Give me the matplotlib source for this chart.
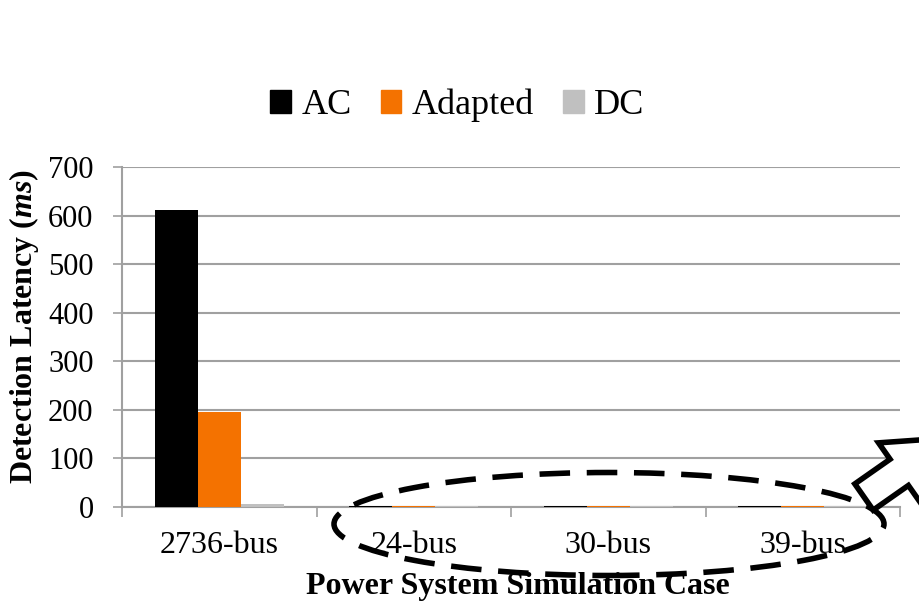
import matplotlib.pyplot as plt
import numpy as np
from matplotlib.patches import Ellipse, Polygon, Patch

plt.rcParams['font.family'] = ['Liberation Serif', 'DejaVu Serif']
plt.rcParams['mathtext.fontset'] = 'custom'
plt.rcParams['mathtext.rm'] = 'Liberation Serif:bold'
plt.rcParams['mathtext.it'] = 'Liberation Serif:italic:bold'

# data (ms)
cases = ['2736-bus', '24-bus', '30-bus', '39-bus']
series = ['AC', 'Adapted', 'DC']
ac = [612, 2.5, 2.5, 2.5]
adapted = [196, 2, 2, 2]
dc = [6, 1.5, 1.5, 1.5]
colors = ['#000000', '#f47200', '#c0c0c0']
yticks = [0, 100, 200, 300, 400, 500, 600, 700]

fig = plt.figure(figsize=(9.2, 6.05), dpi=100)
ax = fig.add_axes([122 / 920, 98 / 605, 778 / 920, 340 / 605])

x = np.arange(len(cases))
w = 0.221
for i, (vals, c) in enumerate(zip([ac, adapted, dc], colors)):
    ax.bar(x + (i - 1) * w, vals, width=w, color=c, zorder=3)

ax.set_xlim(-0.5, len(cases) - 0.5)
ax.set_ylim(0, 700)
ax.set_yticks(yticks)
ax.yaxis.grid(True, color='#a0a0a0', linewidth=1.5, zorder=0)

# category boundary ticks, labels at centres
ax.set_xticks(np.arange(len(cases) + 1) - 0.5)
ax.set_xticklabels([])
ax.set_xticks(x, minor=True)
ax.set_xticklabels(cases, minor=True)
ax.tick_params(axis='x', which='major', length=7, width=1.2, color='#a0a0a0')
ax.tick_params(axis='x', which='minor', length=0, pad=17, labelsize=23)
ax.tick_params(axis='y', length=6.5, width=1.2, color='#a0a0a0', pad=14, labelsize=22)

for s in ['top', 'right']:
    ax.spines[s].set_visible(False)
for s in ['left', 'bottom']:
    ax.spines[s].set_color('#a0a0a0')
    ax.spines[s].set_linewidth(1.5)

ax.set_xlabel('Power System Simulation Case', fontsize=23, fontweight='bold')
ax.xaxis.set_label_coords(0.509, -0.19)
ax.set_ylabel(r'Detection Latency ($\mathit{ms}$)', fontsize=23, fontweight='bold', va='center')
ax.yaxis.set_label_coords(-0.126, 0.532)

handles = [Patch(color=c) for c in colors]
fig.legend(handles, series, loc='center', bbox_to_anchor=(0.497, 0.826), ncol=3,
           frameon=False, fontsize=26, handlelength=0.58, handleheight=0.58,
           handletextpad=0.28, columnspacing=0.8)

# dashed ellipse around the small cases (figure pixels)
H = 605
fig.patches.append(Ellipse((609 / 920, (H - 524) / H), 550 / 920, 103 / H, fill=False,
                           edgecolor='black', linewidth=4, linestyle=(0, (5.5, 3)),
                           transform=fig.transFigure, zorder=5))

# hollow block arrow pointing up-right, cut by the figure edge
ang = np.deg2rad(35)
d = np.array([np.cos(ang), np.sin(ang)])
n = np.array([-np.sin(ang), np.cos(ang)])
t = np.array([864, H - 497])
sw, hw, sl, hl = 16, 36, 43, 60
pts = [t + n * sw, t + n * sw + d * sl, t + n * hw + d * sl, t + d * (sl + hl),
       t - n * hw + d * sl, t - n * sw + d * sl, t - n * sw]
pts = [(p[0] / 920, p[1] / H) for p in pts]
fig.patches.append(Polygon(pts, closed=True, fill=True, facecolor='white', edgecolor='black',
                           linewidth=4, joinstyle='miter', transform=fig.transFigure, zorder=6))

fig.savefig('out.png', dpi=100)
